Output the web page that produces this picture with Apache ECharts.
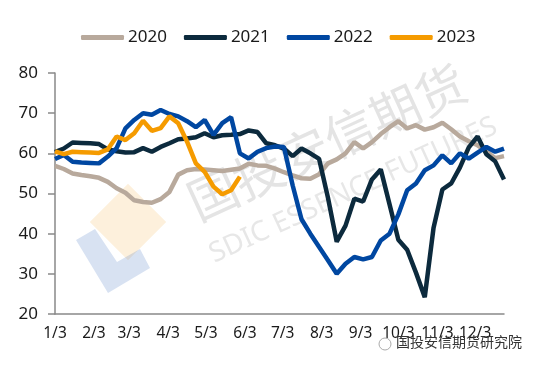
<!DOCTYPE html>
<html>
<head>
<meta charset="utf-8">
<script src="https://cdn.jsdelivr.net/npm/echarts@6/dist/echarts.min.js"></script>
<style>html,body{margin:0;padding:0;background:#fff}#c{width:536px;height:368px}</style>
</head>
<body>
<div id="c"></div>
<script>
// Tick labels on the x axis (day offset from Jan 3)
const tickLabels = ['1/3','2/3','3/3','4/3','5/3','6/3','7/3','8/3','9/3','10/3','11/3','12/3'];
const tickDays = [0,31,59,90,120,151,181,212,243,273,304,334];
const yearNames = ['2020','2021','2022','2023'];
// Weekly values (week 0 = 1/3)
const s2020 = [56.9,56.1,55.0,54.6,54.3,53.9,52.9,51.3,50.2,48.3,47.9,47.7,48.6,50.4,54.7,55.8,56.1,56.0,55.8,55.6,55.9,56.2,57.4,57.0,56.9,56.2,55.3,54.5,53.8,53.7,54.8,57.5,58.5,60.0,62.8,61.2,62.8,64.8,66.5,68.0,66.2,67.0,65.9,66.5,67.6,66.0,64.2,63.0,62.0,60.5,58.8,59.3];
const s2021 = [60.3,61.2,62.7,62.6,62.5,62.3,61.0,60.5,60.2,60.3,61.3,60.4,61.6,62.5,63.5,63.7,64.0,65.0,64.0,64.5,64.6,64.8,65.7,65.3,62.5,62.0,61.2,59.3,61.2,60.0,58.6,49.0,38.0,42.0,48.7,48.0,53.5,56.0,47.3,38.5,36.0,30.3,24.2,41.5,51.0,52.5,56.5,61.5,64.2,59.8,58.0,53.5];
const s2022 = [58.6,59.6,57.9,57.7,57.6,57.5,59.2,61.3,66.2,68.3,70.0,69.6,70.8,69.8,69.2,68.0,66.5,68.3,64.6,67.5,69.0,60.0,58.7,60.4,61.3,61.7,61.6,52.0,43.6,40.0,36.7,33.4,30.0,32.5,34.2,33.6,34.2,38.3,40.0,44.8,50.8,52.5,55.8,57.0,59.5,57.5,60.0,58.7,60.2,61.6,60.4,61.2];
const s2023 = [60.5,59.8,60.4,60.3,60.2,60.1,61.0,64.2,63.3,65.0,68.1,65.6,66.3,69.2,67.5,62.9,57.5,55.4,51.7,49.8,50.8,54.2];
const colors = ['#B8A99C','#0C2A3D','#0047A1','#F59B00'];

const toPairs = arr => arr.map((v, i) => [i * 7, v]);
const font = '"Noto Sans", "Noto Sans CJK SC", sans-serif';

const chart = echarts.init(document.getElementById('c'), null, {renderer: 'canvas'});
chart.setOption({
  animation: false,
  color: colors,
  grid: {left: 55, right: 32, top: 73, bottom: 54},
  legend: {
    top: 24, left: 76,
    itemWidth: 43, itemHeight: 5, itemGap: 17,
    icon: 'roundRect',
    textStyle: {fontSize: 17, color: '#1a1a1a', fontFamily: font, padding: [0,0,0,-1]},
    data: yearNames
  },
  xAxis: {
    type: 'value', min: 0, max: 357,
    axisLine: {show: true, lineStyle: {color: '#898989', width: 1.5}},
    axisTick: {show: false},
    splitLine: {show: false},
    axisLabel: {
      customValues: tickDays,
      formatter: v => tickLabels[tickDays.indexOf(v)],
      fontSize: 15.5, color: '#1a1a1a', fontFamily: font, margin: 12
    }
  },
  yAxis: {
    type: 'value', min: 20, max: 80, interval: 10,
    axisLine: {show: true, lineStyle: {color: '#898989', width: 1.5}},
    axisTick: {show: true, inside: false, length: 7, lineStyle: {color: '#898989', width: 1.5}},
    splitLine: {show: false},
    axisLabel: {fontSize: 17, color: '#1a1a1a', fontFamily: font, margin: 17}
  },
  graphic: [
    {type: 'rect', z: -1, x: 128, y: 222, rotation: Math.PI/4, shape: {x: -27, y: -27, width: 54, height: 54}, style: {fill: 'rgba(246,178,80,0.2)'}},
    {type: 'polygon', z: -1, shape: {points: [[76,240],[95,229],[117,262],[140,249],[150,268],[108,293]]}, style: {fill: 'rgba(60,110,190,0.2)'}},
    {type: 'text', z: -1, x: 180, y: 182, rotation: 0.43, style: {text: '国投安信期货', fontSize: 50, fill: 'rgba(150,150,150,0.26)', fontFamily: '"Noto Sans CJK SC", sans-serif'}},
    {type: 'text', z: -1, x: 205, y: 243, rotation: 0.43, style: {text: 'SDIC ESSENCE FUTURES', fontSize: 28, fill: 'rgba(150,150,150,0.23)', fontFamily: font}},
    {type: 'circle', z: 5, shape: {cx: 385, cy: 344, r: 6}, style: {fill: '#fff', stroke: '#aaa', lineWidth: 1}},
    {type: 'text', z: 5, x: 396, y: 335, style: {text: '国投安信期货研究院', fontSize: 14, fill: '#333', fontFamily: '"Noto Sans CJK SC", sans-serif'}}
  ],
  series: [
    {name: yearNames[0], type: 'line', data: toPairs(s2020), showSymbol: false, lineStyle: {width: 4.5}, z: 2},
    {name: yearNames[1], type: 'line', data: toPairs(s2021), showSymbol: false, lineStyle: {width: 4.5}, z: 3},
    {name: yearNames[2], type: 'line', data: toPairs(s2022), showSymbol: false, lineStyle: {width: 4.5}, z: 4},
    {name: yearNames[3], type: 'line', data: toPairs(s2023), showSymbol: false, lineStyle: {width: 4.5}, z: 5}
  ]
});
</script>
</body>
</html>
